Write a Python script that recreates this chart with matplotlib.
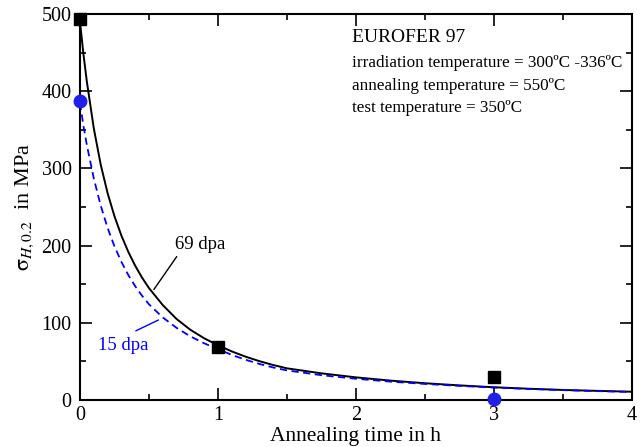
import numpy as np
import matplotlib
matplotlib.use('Agg')
import matplotlib.pyplot as plt

plt.rcParams['font.family'] = ['Liberation Serif', 'DejaVu Serif']
plt.rcParams['mathtext.fontset'] = 'stix'

# measured points
sq_t = [0, 1, 3]
sq_s = [493, 69, 30]      # 69 dpa
ci_t = [0, 3]
ci_s = [387, 1]           # 15 dpa

# curves
t69 = [0, 0.025, 0.05, 0.1, 0.15, 0.2, 0.25, 0.3, 0.35, 0.4, 0.45, 0.5, 0.6, 0.7,
       0.8, 0.9, 1.0, 1.1, 1.2, 1.3, 1.4, 1.5, 1.75, 2.0, 2.25, 2.5, 2.75, 3.0,
       3.25, 3.5, 3.75, 4.0]
s69 = [490, 448, 412, 352, 305, 268, 238, 213, 192, 174, 158.5, 145, 123, 105,
       91, 80, 71, 63, 56.2, 50.4, 45.4, 41.1, 34.6, 29.4, 25.2, 21.8, 19, 16.6,
       14.7, 13.1, 11.9, 10.8]
t15 = [0, 0.025, 0.05, 0.1, 0.15, 0.2, 0.25, 0.3, 0.35, 0.4, 0.45, 0.5, 0.6, 0.7,
       0.8, 0.9, 1.0, 1.1, 1.2, 1.3, 1.4, 1.5, 1.75, 2.0, 2.25, 2.5, 2.75, 3.0,
       3.25, 3.5, 3.75, 4.0]
s15 = [385, 355, 330, 287, 252, 223, 199, 179, 162, 147.5, 135, 124, 107, 93.5,
       82.5, 73.5, 66, 58.5, 52.2, 46.8, 42.2, 38.4, 32.2, 27.6, 23.9, 20.9, 18.4,
       16.2, 14.4, 12.9, 11.6, 10.5]

info = ['irradiation temperature = 300ºC -336ºC',
        'annealing temperature = 550ºC',
        'test temperature = 350ºC']

fig = plt.figure(figsize=(6.4, 4.47), dpi=100)
ax = fig.add_axes([0.125, 0.105, 0.8625, 0.8635])

ax.plot(t69, s69, color='black', lw=1.4)
ax.plot(t15, s15, color='blue', lw=1.3, ls=(0, (4, 2.5)))
ax.plot(sq_t, sq_s, 's', color='black', ms=8, clip_on=False, zorder=5)
ax.plot(ci_t, ci_s, 'o', color='#2020e8', ms=9, clip_on=False, zorder=5)

ax.set_xlim(0, 4)
ax.set_ylim(0, 500)
ax.set_xticks([0, 1, 2, 3, 4])
ax.set_yticks([0, 100, 200, 300, 400, 500])
ax.set_xticks(np.arange(0.5, 4, 1), minor=True)
ax.set_yticks(np.arange(50, 500, 100), minor=True)
ax.tick_params(which='both', direction='in', top=True, right=True, labelsize=14.5, width=1.2)
ax.tick_params(which='major', length=8.5, pad=4)
ax.tick_params(axis='y', which='major', pad=6)
ax.tick_params(which='minor', length=4.5)
for sp in ax.spines.values():
    sp.set_linewidth(1.5)

ax.set_xlabel('Annealing time in h', fontsize=15.5, labelpad=2)
ax.set_ylabel(r'$\mathrm{\sigma}_{\mathit{H,0.2}}$' + '  in MPa', fontsize=16, labelpad=4)

ax.text(1.97, 470, 'EUROFER 97', fontsize=14, va='center')
for i, s in enumerate(info):
    ax.text(1.97, 436 - i * 29, s, fontsize=12.3, va='center')

ax.text(0.69, 201, '69 dpa', fontsize=13.5, va='center')
ax.plot([0.70, 0.536], [185.6, 143.4], color='black', lw=1)
ax.text(0.13, 71, '15 dpa', fontsize=13.5, va='center', color='blue')
ax.plot([0.406, 0.567], [89.8, 103.6], color='blue', lw=1)

fig.savefig('out.png', dpi=100)
